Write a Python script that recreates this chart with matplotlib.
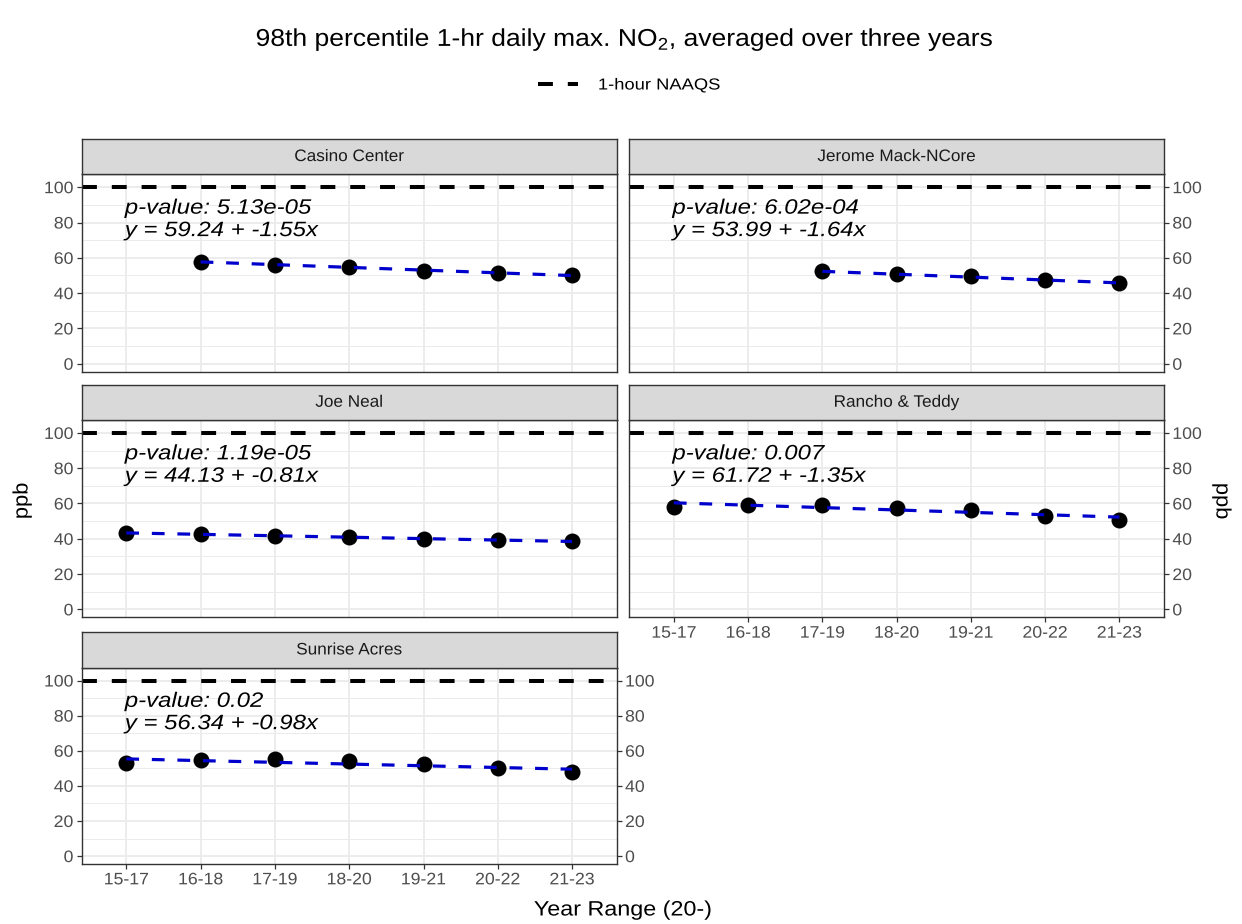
import numpy as np
import matplotlib
matplotlib.use("Agg")
import matplotlib.pyplot as plt
from matplotlib.lines import Line2D
from matplotlib.patheffects import AbstractPathEffect
from matplotlib.transforms import Affine2D

# ---------------- data ----------------
year_ranges = ['15-17', '16-18', '17-19', '18-20', '19-21', '20-22', '21-23']
sites = ['Casino Center', 'Jerome Mack-NCore', 'Joe Neal', 'Rancho & Teddy', 'Sunrise Acres']
nan = np.nan
casino_center = [nan, 57.8, 55.8, 54.9, 52.8, 51.5, 50.4]
jerome_mack = [nan, nan, 52.4, 50.6, 49.6, 47.3, 45.9]
joe_neal = [43.2, 42.5, 41.6, 40.8, 39.7, 39.3, 38.5]
rancho_teddy = [57.8, 58.9, 59.2, 57.7, 56.4, 53.1, 50.6]
sunrise_acres = [53.2, 54.5, 55.2, 54.1, 52.2, 50.1, 47.8]
site_values = [casino_center, jerome_mack, joe_neal, rancho_teddy, sunrise_acres]
intercepts = [59.24, 53.99, 44.13, 61.72, 56.34]
slopes = [-1.55, -1.64, -0.81, -1.35, -0.98]
p_values = ['5.13e-05', '6.02e-04', '1.19e-05', '0.007', '0.02']
naaqs = 100
y_ticks = [0, 20, 40, 60, 80, 100]
y_minor = [10, 30, 50, 70, 90]


class HStretch(AbstractPathEffect):
    """Widen glyphs horizontally about the left, centre or right of each line."""
    def __init__(self, sx, anchor='center'):
        super().__init__()
        self.sx = sx
        self.anchor = anchor

    def draw_path(self, renderer, gc, tpath, affine, rgbFace=None):
        ext = tpath.get_extents()
        if self.anchor == 'left':
            cx = 0.0
        elif self.anchor == 'right':
            cx = ext.x1
        else:
            cx = 0.5 * (ext.x0 + ext.x1)
        t = Affine2D().translate(-cx, 0).scale(self.sx, 1).translate(cx, 0) + affine
        renderer.draw_path(gc, tpath, t, rgbFace)


# ---------------- style ----------------
plt.rcParams['font.family'] = ['Liberation Sans', 'DejaVu Sans']
plt.rcParams['mathtext.fontset'] = 'custom'
plt.rcParams['mathtext.rm'] = 'Liberation Sans'
plt.rcParams['mathtext.it'] = 'Liberation Sans:italic'

W, H = 1242, 924
fig = plt.figure(figsize=(W / 100, H / 100), dpi=100)
fig.patch.set_facecolor('white')

def fx(x):
    return x / W

def fy(y):
    return 1 - y / H

cols = [(81.7, 616.7), (629.3, 1164.0)]
rows = [(174.3, 371.7), (420.0, 617.3), (667.7, 864.0)]
strip_h = 35.5
positions = [(0, 0), (0, 1), (1, 0), (1, 1), (2, 0)]

border = '#333333'
tick_col = '#4D4D4D'
grid_col = '#EBEBEB'
tick_size = 12
tick_sx = 1.06
ann_size = 15
ann_sx = 1.15

for i, site in enumerate(sites):
    r, c = positions[i]
    l, rr = cols[c]
    t, b = rows[r]
    ax = fig.add_axes([fx(l), fy(b), (rr - l) / W, (b - t) / H])
    ax.set_xlim(-0.6, len(year_ranges) - 0.4)
    ax.set_ylim(-4.5, 107.3)
    ax.set_xticks(range(len(year_ranges)))
    ax.set_xticklabels(year_ranges)
    ax.set_yticks(y_ticks)
    ax.set_yticks(y_minor, minor=True)
    ax.grid(True, which='major', color=grid_col, lw=1.3, zorder=0)
    ax.grid(True, which='minor', axis='y', color=grid_col, lw=0.7, zorder=0)
    ax.set_axisbelow(True)
    for sp in ax.spines.values():
        sp.set_color(border)
        sp.set_linewidth(1.0)
    ax.tick_params(which='minor', length=0)
    ax.tick_params(which='major', colors=border, labelcolor=tick_col,
                   labelsize=tick_size, length=3.5, width=0.9, pad=2.5)

    show_x = (r, c) in [(2, 0), (1, 1)]
    left = (c == 0)
    right = (c == 1) or (r == 2)
    ax.tick_params(axis='x', bottom=show_x, labelbottom=show_x)
    ax.tick_params(axis='y', left=left, labelleft=left, right=right, labelright=right)
    for tk in ax.xaxis.get_major_ticks():
        tk.label1.set_path_effects([HStretch(tick_sx, 'center')])
    for tk in ax.yaxis.get_major_ticks():
        tk.label1.set_path_effects([HStretch(tick_sx, 'right')])
        tk.label2.set_path_effects([HStretch(tick_sx, 'left')])

    ax.axhline(naaqs, color='black', lw=2.9, ls=(0, (3.7, 3.7)), zorder=2)

    vals = np.array(site_values[i], dtype=float)
    idx = np.where(~np.isnan(vals))[0]
    ax.plot(idx, vals[idx], 'o', color='black', ms=11.5, mec='black', mew=0, zorder=3)
    xl = np.arange(1, len(idx) + 1)
    fitted = intercepts[i] + slopes[i] * xl
    ax.plot(idx, fitted, color='#0000CC', lw=2.3, ls=(0, (4, 4)), zorder=4)

    for yv, s in [(85.0, f'p-value: {p_values[i]}'),
                  (72.3, f'y = {intercepts[i]:.2f} + {slopes[i]:.2f}x')]:
        ax.text(-0.02, yv, s, ha='left', va='baseline', fontsize=ann_size,
                style='italic', color='black', zorder=5,
                path_effects=[HStretch(ann_sx, 'left')])

    sax = fig.add_axes([fx(l), fy(t), (rr - l) / W, strip_h / H])
    sax.set_facecolor('#D9D9D9')
    sax.set_xticks([])
    sax.set_yticks([])
    for sp in sax.spines.values():
        sp.set_color(border)
        sp.set_linewidth(1.0)
    sax.text(0.5, 0.5, site, ha='center', va='center', fontsize=12, color='#1A1A1A',
             transform=sax.transAxes, path_effects=[HStretch(1.03, 'center')])

# title, axis labels
fig.text(fx(624), fy(40), r'98th percentile 1-hr daily max. NO$_\mathregular{2}$, averaged over three years',
         ha='center', va='center', fontsize=17.5, color='black',
         path_effects=[HStretch(1.09, 'center')])
fig.text(fx(22), fy(501), 'ppb', rotation=90, ha='center', va='center', fontsize=15,
         path_effects=[HStretch(1.05, 'center')])
fig.text(fx(1222), fy(501), 'ppb', rotation=270, ha='center', va='center', fontsize=15,
         path_effects=[HStretch(1.05, 'center')])
fig.text(fx(623), fy(910), 'Year Range (20-)', ha='center', va='center', fontsize=15,
         path_effects=[HStretch(1.12, 'center')])

# legend
handle = Line2D([0], [0], color='black', lw=2.9, ls=(0, (3.7, 3.7)))
leg = fig.legend(handles=[handle], labels=['1-hour NAAQS'], loc='center left',
                 bbox_to_anchor=(fx(538), fy(85)), frameon=False, fontsize=11.5,
                 handlelength=2.5, handletextpad=1.25, borderpad=0, borderaxespad=0)
for txt in leg.get_texts():
    txt.set_path_effects([HStretch(1.15, 'left')])

fig.savefig('out.png', dpi=100, facecolor='white')
